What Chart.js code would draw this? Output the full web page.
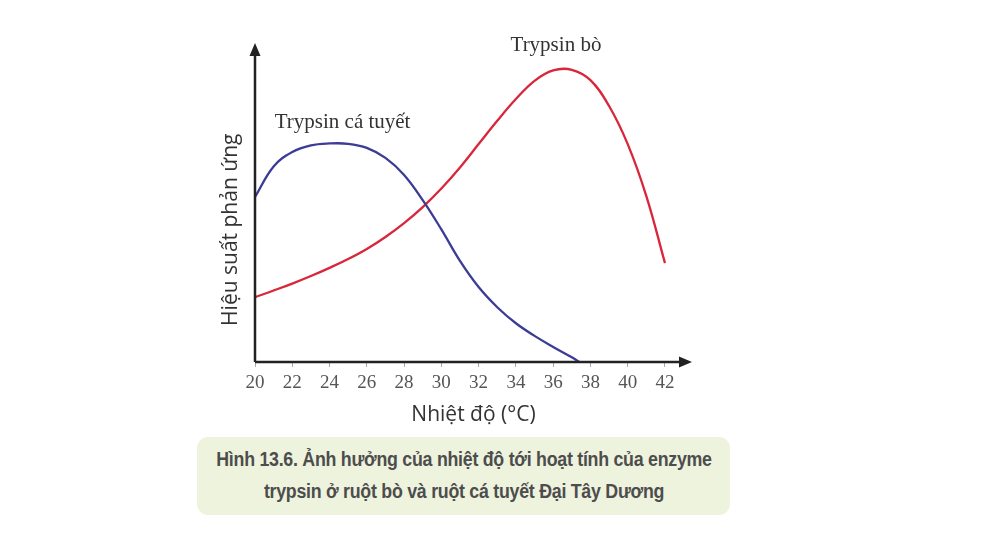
<!DOCTYPE html>
<html lang="vi">
<head>
<meta charset="utf-8">
<title>Hình 13.6</title>
<script src="https://cdn.jsdelivr.net/npm/chart.js@4.4.1/dist/chart.umd.min.js"></script>
<style>
  html, body { margin: 0; padding: 0; background: #fff; }
  body { width: 981px; height: 533px; position: relative; overflow: hidden; }
  #wrap { position: absolute; left: 0; top: 0; width: 981px; height: 430px; }
  #caption {
    position: absolute; left: 197px; top: 437px; width: 533px; height: 78px;
    box-sizing: border-box; padding-top: 6px;
    background: #eef3dd; border-radius: 11px;
    font-family: "Liberation Sans", sans-serif;
    font-weight: bold; font-size: 20px; line-height: 32px;
    color: #4d4d4d; white-space: nowrap;
  }
  #caption div {
    width: 640px; margin-left: -53.5px; text-align: center;
    transform: scaleX(0.89); transform-origin: center; letter-spacing: -0.3px;
  }
</style>
</head>
<body>
<div id="wrap"><canvas id="chart"></canvas></div>
<div id="caption"><div>Hình 13.6. Ảnh hưởng của nhiệt độ tới hoạt tính của enzyme</div><div>trypsin ở ruột bò và ruột cá tuyết Đại Tây Dương</div></div>
<script>
// nhiệt độ (°C) và hiệu suất tương đối (0 = trục hoành)
const codTemps = [20, 21, 22, 23, 24, 25, 26, 27, 28, 29, 30, 31, 32, 33, 34, 35, 36, 37, 37.4];
const codValues = [52.4, 62.1, 66.7, 68.8, 69.4, 69.3, 68.0, 64.8, 59.4, 51.4, 42.1, 32.1, 23.8, 17.4, 12.3, 8.3, 4.8, 1.5, 0];

const cowTemps = [20, 21, 22, 23, 24, 25, 26, 27, 28, 29, 30, 31, 32, 33, 34, 35, 36, 37, 38, 39, 40, 41, 42];
const cowValues = [20.6, 22.7, 24.9, 27.3, 29.9, 32.7, 35.9, 39.7, 44.1, 49.2, 55.1, 61.8, 69.2, 76.6, 83.5, 89.3, 92.6, 92.8, 89.5, 81.3, 69.2, 52.7, 31.4];

const xTicks = [20, 22, 24, 26, 28, 30, 32, 34, 36, 38, 40, 42];

const curveLabels = [
  { text: "Trypsin cá tuyết", x: 24.7, y: 76 },
  { text: "Trypsin bò", x: 36.15, y: 100.6 },
];
const yTitle = { text: "Hiệu suất phản ứng", y: 42 };

const toPoints = (xs, ys) => xs.map((x, i) => ({ x, y: ys[i] }));

// trục có mũi tên + nhãn đường cong + tên trục tung
const arrowAxes = {
  id: "arrowAxes",
  afterDatasetsDraw(chart) {
    const { ctx, chartArea: a, scales } = chart;
    ctx.save();
    ctx.strokeStyle = "#222";
    ctx.fillStyle = "#222";
    ctx.lineWidth = 2.5;
    ctx.beginPath();
    ctx.moveTo(a.left, a.bottom);
    ctx.lineTo(a.right - 8, a.bottom);
    ctx.moveTo(a.left, a.bottom);
    ctx.lineTo(a.left, a.top + 8);
    ctx.stroke();
    ctx.beginPath();
    ctx.moveTo(a.right, a.bottom);
    ctx.lineTo(a.right - 13, a.bottom - 5.5);
    ctx.lineTo(a.right - 13, a.bottom + 5.5);
    ctx.closePath();
    ctx.moveTo(a.left, a.top);
    ctx.lineTo(a.left - 5.5, a.top + 13);
    ctx.lineTo(a.left + 5.5, a.top + 13);
    ctx.closePath();
    ctx.fill();

    ctx.font = '21px "Liberation Serif", serif';
    ctx.fillStyle = "#333";
    ctx.textAlign = "center";
    ctx.textBaseline = "middle";
    curveLabels.forEach(l => {
      ctx.fillText(l.text, scales.x.getPixelForValue(l.x), scales.y.getPixelForValue(l.y));
    });

    ctx.translate(a.left - 24, scales.y.getPixelForValue(yTitle.y));
    ctx.rotate(-Math.PI / 2);
    ctx.font = '21px "Open Sans", sans-serif';
    ctx.fillText(yTitle.text, 0, 0);
    ctx.restore();
  }
};

const ctx = document.getElementById("chart").getContext("2d");
new Chart(ctx, {
  type: "line",
  data: {
    datasets: [
      {
        label: "Trypsin cá tuyết",
        data: toPoints(codTemps, codValues),
        borderColor: "#3b3c95",
        borderWidth: 2.3,
      },
      {
        label: "Trypsin bò",
        data: toPoints(cowTemps, cowValues),
        borderColor: "#d8263a",
        borderWidth: 2.3,
      },
    ],
  },
  options: {
    responsive: true,
    maintainAspectRatio: false,
    animation: false,
    layout: { padding: { left: 212, right: 289, top: 43, bottom: 0 } },
    elements: {
      point: { radius: 0 },
      line: { tension: 0.4, fill: false },
    },
    plugins: {
      legend: { display: false },
      tooltip: { enabled: false },
    },
    scales: {
      x: {
        type: "linear",
        min: 20,
        max: 43.45,
        afterBuildTicks: (scale) => { scale.ticks = xTicks.map(v => ({ value: v })); },
        afterFit: (scale) => { scale.height = 68; },
        border: { display: false },
        grid: { drawOnChartArea: false, tickLength: 5, color: "#aaa" },
        ticks: {
          color: "#555",
          padding: 5,
          maxRotation: 0,
          autoSkip: false,
          font: { family: '"Liberation Serif", serif', size: 19 },
        },
        title: {
          display: true,
          text: "Nhiệt độ (°C)",
          color: "#333",
          padding: { top: 0, bottom: 2 },
          font: { family: '"Open Sans", sans-serif', size: 21 },
        },
      },
      y: {
        min: 0,
        max: 101.3,
        afterFit: (scale) => { scale.width = 43; },
        border: { display: false },
        grid: { display: false },
        ticks: { display: false },
      },
    },
  },
  plugins: [arrowAxes],
});
</script>
</body>
</html>
